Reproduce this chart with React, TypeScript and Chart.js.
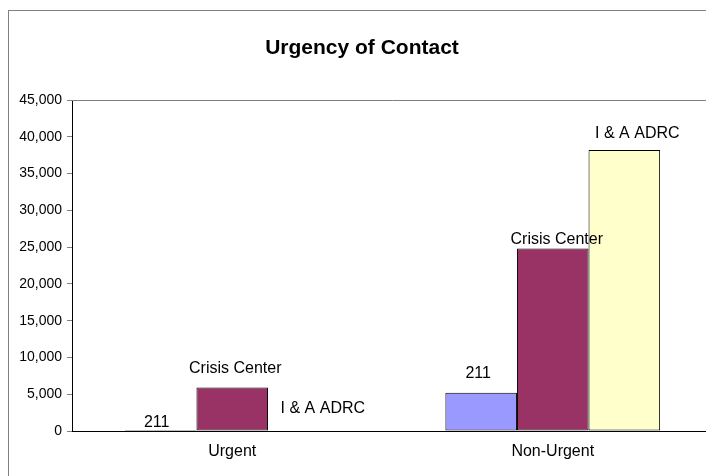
import React, { useEffect, useRef } from "react";
import { Chart, registerables } from "chart.js";

Chart.register(...registerables);

const TITLE = "Urgency of Contact";
const categories = ["Urgent", "Non-Urgent"];
const seriesNames = ["211", "Crisis Center", "I & A ADRC"];
const values211 = [120, 5200];
const valuesCrisis = [5900, 24800];
const valuesADRC = [80, 38200];
const yTickValues = [0, 5000, 10000, 15000, 20000, 25000, 30000, 35000, 40000, 45000];

const COLORS = ["#9999FF", "#993366", "#FFFFCC"];
// label placement tweaks [dx, dy above bar top] per series per category (style only)
const LABEL_SHIFT = [
  [[-4, 8], [-3, 19]],
  [[3, 19], [4, 9]],
  [[19, 22], [13, 16]],
];

const FONT = "Arial, 'Liberation Sans', sans-serif";

export default function App() {
  const ref = useRef<HTMLCanvasElement | null>(null);
  useEffect(() => {
    if (!ref.current) return;
    const decor = {
      id: "decor",
      beforeDraw(chart: any) {
        const { ctx, width, height } = chart;
        ctx.save();
        ctx.fillStyle = "#ffffff";
        ctx.fillRect(0, 0, width, height);
        ctx.strokeStyle = "#808080";
        ctx.lineWidth = 1;
        ctx.strokeRect(0.5, 2.5, width + 10, height + 10);
        ctx.fillStyle = "#000";
        ctx.font = `bold 21px ${FONT}`;
        ctx.textAlign = "center";
        ctx.textBaseline = "middle";
        ctx.fillText(TITLE, width / 2 + 1, 40);
        ctx.restore();
      },
      afterDraw(chart: any) {
        const { ctx, chartArea } = chart;
        ctx.save();
        ctx.strokeStyle = "#808080";
        ctx.lineWidth = 1;
        ctx.beginPath();
        ctx.moveTo(chartArea.left, Math.round(chartArea.top) + 0.5);
        ctx.lineTo(Math.round(chartArea.right) + 0.5, Math.round(chartArea.top) + 0.5);
        ctx.lineTo(Math.round(chartArea.right) + 0.5, chartArea.bottom);
        ctx.stroke();
        ctx.restore();
      },
      afterDatasetDraw(chart: any, args: any) {
        const i = args.index;
        const meta = chart.getDatasetMeta(i);
        const { ctx } = chart;
        ctx.save();
        ctx.fillStyle = "#000";
        ctx.font = `16px ${FONT}`;
        ctx.textAlign = "center";
        ctx.textBaseline = "middle";
        meta.data.forEach((el: any, j: number) => {
          const [dx, dy] = LABEL_SHIFT[i][j];
          ctx.fillText(chart.data.datasets[i].label, el.x + dx, el.y - dy);
        });
        ctx.restore();
      },
    };
    const values = [values211, valuesCrisis, valuesADRC];
    const chart = new Chart(ref.current, {
      type: "bar",
      data: {
        labels: categories,
        datasets: seriesNames.map((name, i) => ({
          label: name,
          data: values[i],
          backgroundColor: COLORS[i],
          borderColor: "#000",
          borderWidth: 1,
          borderSkipped: false,
          barPercentage: 1,
          categoryPercentage: 0.67,
        })),
      },
      options: {
        animation: false,
        responsive: false,
        maintainAspectRatio: false,
        layout: { padding: { top: 92, left: 0, right: 1, bottom: 0 } },
        plugins: {
          legend: { display: false },
          title: { display: false },
          tooltip: { enabled: false },
        },
        scales: {
          x: {
            grid: { display: false, drawTicks: false },
            border: { display: true, color: "#000", width: 1 },
            ticks: { color: "#000", font: { family: FONT, size: 16 }, padding: 11 },
            afterFit(scale: any) {
              scale.height = 45;
            },
          },
          y: {
            min: 0,
            max: 45000,
            afterBuildTicks(scale: any) {
              scale.ticks = yTickValues.map((v) => ({ value: v }));
            },
            grid: { drawOnChartArea: false, color: "#808080", tickLength: 5 },
            border: { display: true, color: "#000", width: 1 },
            ticks: {
              color: "#000",
              font: { family: FONT, size: 14 },
              padding: 5,
              callback: (v: any) => Number(v).toLocaleString("en-US"),
            },
            afterFit(scale: any) {
              scale.width = 64;
            },
          },
        },
      },
      plugins: [decor],
    });
    return () => chart.destroy();
  }, []);
  return <canvas ref={ref} width={706} height={468} style={{ display: "block" }} />;
}
